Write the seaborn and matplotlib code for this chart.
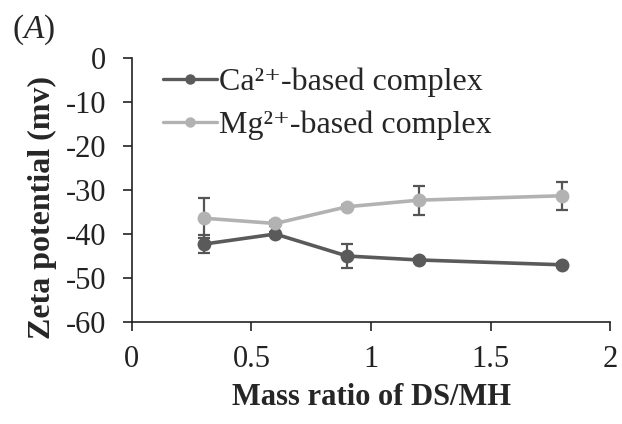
import matplotlib
matplotlib.use("Agg")
import matplotlib.pyplot as plt
import seaborn as sns
import pandas as pd
import numpy as np
from matplotlib.lines import Line2D

# Data
ratio = [0.3, 0.6, 0.9, 1.2, 1.8]
ca_zeta = [-42.3, -40.0, -45.0, -45.9, -47.0]
ca_err = [2.0, 0.5, 2.8, 0.5, 0.5]
mg_zeta = [-36.4, -37.6, -33.8, -32.3, -31.3]
mg_err = [4.6, 0.5, 0.5, 3.3, 3.2]
series_labels = ["Ca²⁺-based complex", "Mg²⁺-based complex"]
colors = ["#5a5a5a", "#b2b2b2"]
x_ticks = [0, 0.5, 1, 1.5, 2]
x_ticklabels = ["0", "0.5", "1", "1.5", "2"]
y_ticks = [-60, -50, -40, -30, -20, -10, 0]
y_ticklabels = ["-60", "-50", "-40", "-30", "-20", "-10", "0"]

sns.set_style("white")
plt.rcParams["font.family"] = ["Liberation Serif", "DejaVu Serif"]
plt.rcParams["mathtext.fontset"] = "custom"
plt.rcParams["mathtext.rm"] = "Liberation Serif"
plt.rcParams["mathtext.it"] = "Liberation Serif:italic"

df = pd.DataFrame({
    "ratio": ratio * 2,
    "zeta": ca_zeta + mg_zeta,
    "series": [series_labels[0]] * len(ratio) + [series_labels[1]] * len(ratio),
})

fig = plt.figure(figsize=(6.22, 4.24), dpi=100)
ax = fig.add_axes([0.212, 0.2406, 0.769, 0.6224])

# error bars (behind)
for yv, ev in [(ca_zeta, ca_err), (mg_zeta, mg_err)]:
    ax.errorbar(ratio, yv, yerr=ev, fmt="none", ecolor="#555555",
                elinewidth=1.6, capsize=4.5, capthick=1.6, zorder=1)

sns.lineplot(data=df, x="ratio", y="zeta", hue="series", palette=colors,
             marker="o", markersize=10, markeredgewidth=0, linewidth=2.6,
             ax=ax, zorder=3, legend=False)

handles = [Line2D([], [], color=c, marker="o", markersize=7.5, markeredgewidth=0,
                  linewidth=2.4) for c in colors]
ax.legend(handles, series_labels, loc="upper left", bbox_to_anchor=(0.065, 0.965),
          frameon=False, fontsize=23, handlelength=1.7, handletextpad=0.05,
          labelspacing=0.42, borderaxespad=0, borderpad=0)

ax.set_xlim(0, 2)
ax.set_ylim(-60, 0)
ax.set_xticks(x_ticks)
ax.set_xticklabels(x_ticklabels)
ax.set_yticks(y_ticks)
ax.set_yticklabels(y_ticklabels)
ax.tick_params(axis="both", direction="out", length=6.5, width=1.2,
               labelsize=22, colors="#222222", left=True, bottom=True)
ax.tick_params(axis="y", pad=12)
ax.tick_params(axis="x", pad=10)
for s in ["top", "right"]:
    ax.spines[s].set_visible(False)
for s in ["left", "bottom"]:
    ax.spines[s].set_color("#222222")
    ax.spines[s].set_linewidth(1.2)

ax.set_xlabel("Mass ratio of DS/MH", fontsize=22, fontweight="bold")
ax.set_ylabel("Zeta potential (mv)", fontsize=23, fontweight="bold")
ax.xaxis.label.set_va("center")
ax.yaxis.label.set_va("center")
ax.xaxis.set_label_coords(0.5, -0.288)
ax.yaxis.set_label_coords(-0.186, 0.432)

fig.text(0.019, 0.93, r"($A$)", fontsize=24, ha="left", va="center")

fig.savefig("out.png", dpi=100)
